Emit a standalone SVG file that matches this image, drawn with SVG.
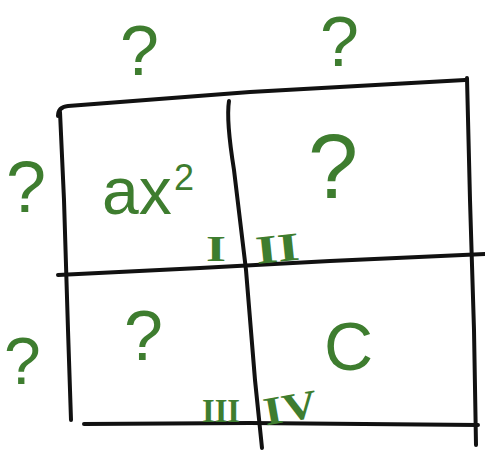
<svg xmlns="http://www.w3.org/2000/svg" width="485" height="452" viewBox="0 0 485 452">
<style>
.ln{fill:none;stroke:#111;stroke-width:4;stroke-linecap:round;stroke-linejoin:round}
.g{fill:#3e7d2f;font-family:"Liberation Sans",Arial,sans-serif}
.r{fill:#3e7d2f;font-family:"Liberation Serif","Times New Roman",serif;font-weight:bold}
</style>
<rect width="485" height="452" fill="#fff"/>
<g id="connectors">
<path class="ln" d="M58,116 Q58,107 68,106 L250,92 L465,80"/>
<path class="ln" d="M467,78 L470,200 L474,330 L476,445"/>
<path class="ln" d="M60,112 L64,200 L68,330 L71,420"/>
<path class="ln" d="M229,101 Q226,120 234,170 L246,270 L255,380 L262,448"/>
<path class="ln" d="M58,275 L200,268 L330,261 L485,254"/>
<path class="ln" d="M84,424 L250,423 L478,425"/>
</g>
<g id="top-left-q"><text class="g" x="120" y="75" font-size="70">?</text></g>
<g id="top-right-q"><text class="g" x="320" y="66" font-size="70">?</text></g>
<g id="left-top-q"><text class="g" x="6" y="212" font-size="72">?</text></g>
<g id="left-bottom-q"><text class="g" x="4" y="384" font-size="66">?</text></g>
<g id="cell1"><text class="g" x="102" y="214" font-size="66">ax</text><text class="g" x="174" y="190" font-size="36">2</text></g>
<g id="cell2"><text class="g" x="308" y="198" font-size="90">?</text></g>
<g id="cell3"><text class="g" x="124" y="360" font-size="70">?</text></g>
<g id="cell4"><text class="g" x="324" y="370" font-size="68">C</text></g>
<g id="label-I"><text class="r" x="206" y="261" font-size="36" textLength="20" lengthAdjust="spacingAndGlyphs">I</text></g>
<g id="label-II"><text class="r" x="255" y="262" font-size="40" textLength="44" lengthAdjust="spacingAndGlyphs" transform="rotate(-6 275 245)">II</text></g>
<g id="label-III"><text class="r" x="202" y="422" font-size="34" textLength="38" lengthAdjust="spacingAndGlyphs">III</text></g>
<g id="label-IV"><text class="r" x="262" y="421" font-size="40" textLength="54" lengthAdjust="spacingAndGlyphs" transform="rotate(-10 290 400)">IV</text></g>
</svg>
